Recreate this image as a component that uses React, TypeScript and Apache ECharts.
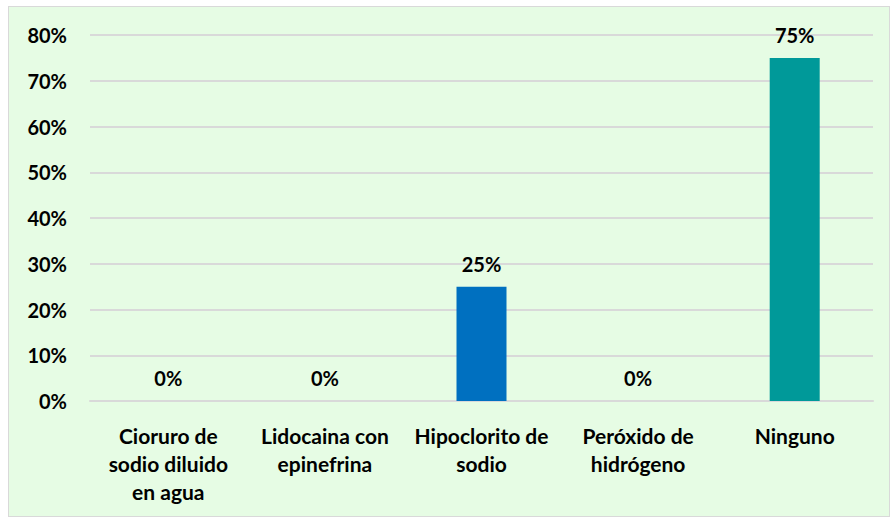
import React, { useEffect, useRef } from "react";
import * as echarts from "echarts";

const categories = [
  "Cioruro de\nsodio diluido\nen agua",
  "Lidocaina con\nepinefrina",
  "Hipoclorito de\nsodio",
  "Peróxido de\nhidrógeno",
  "Ninguno",
];
const values = [0, 0, 25, 0, 75];
const barColors = ["#0070C0", "#0070C0", "#0070C0", "#0070C0", "#009999"];
const yTicks = { min: 0, max: 80, interval: 10 };

export default function App() {
  const ref = useRef<HTMLDivElement>(null);
  useEffect(() => {
    if (!ref.current) return;
    const chart = echarts.init(ref.current, null, { renderer: "svg" });
    const font = "Lato, 'Open Sans', sans-serif";
    chart.setOption({
      animation: false,
      backgroundColor: "transparent",
      grid: { left: 81, right: 16, top: 28, bottom: 115, containLabel: false },
      xAxis: {
        type: "category",
        data: categories,
        axisLine: { show: true, lineStyle: { color: "#D9D9D9", width: 2 } },
        axisTick: { show: false },
        axisLabel: {
          interval: 0,
          color: "#000",
          fontFamily: font,
          fontWeight: "bold",
          fontSize: 21,
          lineHeight: 28,
          margin: 20,
        },
      },
      yAxis: {
        type: "value",
        min: yTicks.min,
        max: yTicks.max,
        interval: yTicks.interval,
        axisLine: { show: false },
        axisTick: { show: false },
        splitLine: { lineStyle: { color: "#D9D9D9", width: 2 } },
        axisLabel: {
          formatter: "{value}%",
          color: "#000",
          fontFamily: font,
          fontWeight: "bold",
          fontSize: 20,
          margin: 23,
        },
      },
      series: [
        {
          type: "bar",
          barWidth: 50,
          data: values.map((v, i) => ({ value: v, itemStyle: { color: barColors[i] } })),
          label: {
            show: true,
            position: "top",
            distance: 13,
            formatter: "{c}%",
            color: "#000",
            fontFamily: font,
            fontWeight: "bold",
            fontSize: 20,
          },
        },
      ],
    });
    return () => chart.dispose();
  }, []);
  return (
    <div
      style={{
        position: "fixed",
        left: 8,
        top: 6,
        width: 880,
        height: 509,
        background: "#E6FCE4",
        border: "1px solid #D9D9D9",
      }}
    >
      <div ref={ref} style={{ width: 880, height: 509 }} />
    </div>
  );
}
